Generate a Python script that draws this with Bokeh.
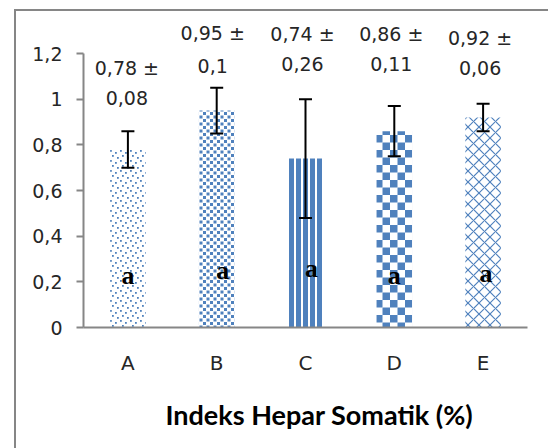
import base64
from bokeh.plotting import figure
from bokeh.models import (ColumnDataSource, FactorRange, Range1d, FixedTicker, Whisker, TeeHead,
                          LabelSet, ImageURLTexture, CustomJSTickFormatter, Title)
from bokeh.core.properties import value
from bokeh.embed import file_html
from bokeh.resources import INLINE

# ---- data ----
categories = ["A", "B", "C", "D", "E"]
means = [0.78, 0.95, 0.74, 0.86, 0.92]
sds = [0.08, 0.10, 0.26, 0.11, 0.06]
letters = ["a", "a", "a", "a", "a"]
y_ticks = [0, 0.2, 0.4, 0.6, 0.8, 1.0, 1.2]
y_tick_labels = ["0", "0,2", "0,4", "0,6", "0,8", "1", "1,2"]
x_title = "Indeks Hepar Somatik (%)"

# ---- layout / style (not data) ----
label_dx = [-1, -4, -3, -3, -3]
label_dy2 = [33, 22, 35, 42, 36]
label_gap = [30, 33, 30, 30, 30]
letter_y = [0.228, 0.25, 0.258, 0.228, 0.236]
letter_dx = [0, 6, 6, 0, 3]
Y_MAX = 1.3796          # frame extends above 1.2 so the top labels are not clipped
BLUE = "#4F81BD"
AXIS = "#868686"


def fmt(v):
    return ("%g" % v).replace(".", ",")


def tex(svg):
    url = "data:image/svg+xml;base64," + base64.b64encode(svg.encode()).decode()
    return ImageURLTexture(url=url, repetition="repeat")


upper = [m + s for m, s in zip(means, sds)]
lower = [m - s for m, s in zip(means, sds)]

src = ColumnDataSource(dict(
    x=categories, top=means, upper=upper, lower=lower,
    t1=[fmt(m) + " \u00b1" for m in means], t2=[fmt(s) for s in sds],
    dx=label_dx, dy2=label_dy2, dy1=[a + b for a, b in zip(label_dy2, label_gap)],
    letter=letters, ly=letter_y, ldx=letter_dx,
))

p = figure(width=548, height=448, x_range=FactorRange(factors=categories),
           y_range=Range1d(0, Y_MAX), output_backend="svg", toolbar_location=None,
           min_border_left=83, min_border_right=21, min_border_top=12, min_border_bottom=121)
p.outline_line_color = None
p.xgrid.visible = False
p.ygrid.visible = False
p.background_fill_color = "white"
p.border_fill_color = None
# chart-area frame of the original (left and top edges; right/bottom are off-picture)
p.styles = {
    "background-color": "white",
    "background-image": f"linear-gradient({AXIS},{AXIS}), linear-gradient({AXIS},{AXIS})",
    "background-size": "2px 100%, 100% 2px",
    "background-position": "14px 9px, 14px 9px",
    "background-repeat": "no-repeat",
}

# patterns
tex_a = tex('<svg xmlns="http://www.w3.org/2000/svg" width="10" height="10">'
            '<rect width="10" height="10" fill="white"/>'
            f'<rect x="0" y="0" width="1.8" height="1.8" fill="{BLUE}"/>'
            f'<rect x="5" y="2" width="1.8" height="1.8" fill="{BLUE}"/>'
            f'<rect x="2" y="5" width="1.8" height="1.8" fill="{BLUE}"/>'
            f'<rect x="7" y="7" width="1.8" height="1.8" fill="{BLUE}"/></svg>')
tex_b = tex('<svg xmlns="http://www.w3.org/2000/svg" width="7" height="7">'
            '<rect width="7" height="7" fill="white"/>'
            f'<rect x="0" y="0" width="3" height="3" fill="{BLUE}"/>'
            f'<rect x="3.5" y="3.5" width="3" height="3" fill="{BLUE}"/></svg>')
tex_d = tex('<svg xmlns="http://www.w3.org/2000/svg" width="15" height="15">'
            '<rect width="15" height="15" fill="white"/>'
            f'<rect x="0" y="0" width="7.5" height="7.5" fill="{BLUE}"/>'
            f'<rect x="7.5" y="7.5" width="7.5" height="7.5" fill="{BLUE}"/></svg>')

styles = [
    dict(hatch_pattern=value("pa"), hatch_extra={"pa": tex_a}),
    dict(hatch_pattern=value("pb"), hatch_extra={"pb": tex_b}),
    dict(hatch_pattern=value("vertical_line"), hatch_scale=7, hatch_weight=5),
    dict(hatch_pattern=value("pd"), hatch_extra={"pd": tex_d}),
    dict(hatch_pattern=value("diagonal_cross"), hatch_scale=11, hatch_weight=1.2),
]
for i, st in enumerate(styles):
    p.vbar(x=[categories[i]], top=[means[i]], width=0.4, fill_color="white",
           line_color=None, hatch_color=BLUE, **st)

# error bars
p.add_layout(Whisker(base="x", upper="upper", lower="lower", source=src, level="overlay",
                     line_color="black", line_width=2,
                     upper_head=TeeHead(size=13, line_width=2, line_color="black"),
                     lower_head=TeeHead(size=13, line_width=2, line_color="black")))

# data labels
for col, dy in (("t1", "dy1"), ("t2", "dy2")):
    p.add_layout(LabelSet(x="x", y="upper", text=col, source=src, x_offset="dx", y_offset=dy,
                          text_align="center", text_baseline="middle",
                          text_font=value("DejaVu Sans"), text_font_size=value("19px"),
                          text_color="#262626"))

# significance letters
p.add_layout(LabelSet(x="x", y="ly", text="letter", source=src, x_offset="ldx",
                      text_align="center", text_baseline="middle",
                      text_font=value("Liberation Serif"), text_font_style="bold",
                      text_font_size=value("26px"), text_color="black"))

# axes
for ax in (p.xaxis[0], p.yaxis[0]):
    ax.axis_line_color = AXIS
    ax.axis_line_width = 2
    ax.major_tick_line_color = AXIS
    ax.major_tick_line_width = 2
    ax.minor_tick_out = 0
    ax.minor_tick_in = 0
    ax.major_tick_in = 0
    ax.major_label_text_font = "DejaVu Sans"
    ax.major_label_text_color = "#262626"

p.yaxis.bounds = (0, 1.2)
p.yaxis.ticker = FixedTicker(ticks=y_ticks)
p.yaxis.formatter = CustomJSTickFormatter(args=dict(labels=y_tick_labels),
                                          code="return labels[index];")
p.yaxis.major_tick_out = 7
p.yaxis.major_label_text_font_size = "19px"
p.yaxis.major_label_standoff = 14

p.xaxis.major_tick_out = 0
p.xaxis.major_label_text_font_size = "20px"
p.xaxis.major_label_standoff = 23

p.add_layout(Title(text=x_title, align="left", offset=82, standoff=36,
                   text_font="Lato", text_font_style="bold", text_font_size="27px",
                   text_color="black"), "below")

open("out.html", "w").write(file_html(p, INLINE))
